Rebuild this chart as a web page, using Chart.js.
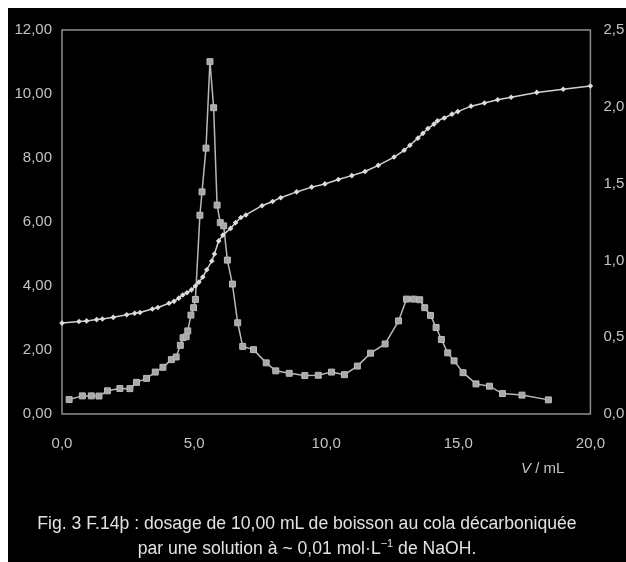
<!DOCTYPE html>
<html lang="fr">
  <head>
    <meta charset="UTF-8" />
    <script src="https://cdn.jsdelivr.net/npm/chart.js"></script>
    <title>Dosage cola / NaOH</title>
    <style>
      body {
        margin: 0;
        background: #ffffff;
        width: 626px;
        height: 562px;
        overflow: hidden;
        position: relative;
        font-family: "Liberation Sans", Arial, sans-serif;
      }
      #sheet {
        position: absolute;
        left: 8px;
        top: 8px;
        width: 618px;
        height: 554px;
        background: #000000;
      }
      #axis-title {
        position: absolute;
        left: 521px;
        top: 459px;
        color: #c4c4c4;
        font-size: 15px;
        white-space: nowrap;
      }
      #caption {
        position: absolute;
        left: 8px;
        top: 511px;
        width: 598px;
        text-align: center;
        color: #e2e2e2;
        font-size: 17.6px;
        line-height: 25px;
      }
      #caption sup {
        font-size: 11px;
        line-height: 0;
      }
    </style>
  </head>
  <body>
    <div id="sheet">
      <canvas id="chart" width="618" height="554"></canvas>
    </div>
    <div id="axis-title"><i>V</i> / mL</div>
    <div id="caption">
      Fig. 3 F.14þ : dosage de 10,00 mL de boisson au cola décarboniquée<br />
      par une solution à ~ 0,01 mol·L<sup>−1</sup> de NaOH.
    </div>
    <script>
      // pH curve (left axis)
      const phVolumes = [0.0, 0.64, 0.93, 1.31, 1.53, 1.94, 2.45, 2.75, 2.95, 3.42, 3.63, 4.05, 4.24, 4.42,
        4.57, 4.73, 4.90, 5.05, 5.18, 5.33, 5.48, 5.67, 5.77, 5.93, 6.09, 6.38, 6.57, 6.77, 6.96, 7.57,
        7.97, 8.28, 8.88, 9.45, 9.95, 10.46, 10.97, 11.47, 11.97, 12.57, 12.95, 13.17, 13.47, 13.66,
        13.85, 14.08, 14.21, 14.47, 14.76, 14.98, 15.48, 15.99, 16.49, 17.0, 17.97, 18.97, 20.0];
      const phValues = [2.84, 2.89, 2.91, 2.95, 2.97, 3.02, 3.10, 3.15, 3.17, 3.28, 3.33, 3.46, 3.52, 3.62,
        3.72, 3.79, 3.88, 4.00, 4.12, 4.28, 4.51, 4.78, 5.00, 5.41, 5.59, 5.80, 5.98, 6.14, 6.22, 6.51,
        6.64, 6.76, 6.94, 7.09, 7.19, 7.33, 7.45, 7.58, 7.77, 8.03, 8.24, 8.40, 8.62, 8.77,
        8.92, 9.06, 9.16, 9.25, 9.37, 9.45, 9.62, 9.72, 9.82, 9.90, 10.05, 10.15, 10.25];

      // dpH/dV curve (right axis)
      const derivVolumes = [0.27, 0.77, 1.11, 1.40, 1.72, 2.19, 2.57, 2.82, 3.20, 3.53, 3.82, 4.14, 4.32,
        4.48, 4.58, 4.70, 4.76, 4.88, 4.98, 5.05, 5.22, 5.30, 5.45, 5.60, 5.74, 5.87, 5.99, 6.12, 6.26,
        6.45, 6.65, 6.84, 7.25, 7.73, 8.09, 8.60, 9.19, 9.70, 10.20, 10.69, 11.18, 11.68, 12.23, 12.74,
        13.04, 13.31, 13.54, 13.73, 13.95, 14.16, 14.36, 14.60, 14.84, 15.18, 15.67, 16.18, 16.67,
        17.41, 18.41];
      const derivValues = [0.094, 0.118, 0.118, 0.117, 0.151, 0.166, 0.165, 0.206, 0.232, 0.273, 0.304,
        0.354, 0.371, 0.447, 0.497, 0.503, 0.541, 0.644, 0.692, 0.746, 1.294, 1.446, 1.731, 2.294,
        1.994, 1.360, 1.246, 1.225, 1.002, 0.846, 0.594, 0.440, 0.419, 0.333, 0.281, 0.265, 0.250,
        0.252, 0.273, 0.256, 0.312, 0.396, 0.456, 0.606, 0.748, 0.748, 0.744, 0.692, 0.642, 0.563,
        0.485, 0.398, 0.346, 0.269, 0.196, 0.181, 0.133, 0.123, 0.092];

      const xTicks = [0, 5, 10, 15, 20];
      const leftTicks = [0, 2, 4, 6, 8, 10, 12];
      const rightTicks = [0, 0.5, 1, 1.5, 2, 2.5];

      const comma = (v, d) => v.toFixed(d).replace('.', ',');
      const tickFont = { family: "'Liberation Sans', Arial, sans-serif", size: 15 };
      const tickColor = '#c4c4c4';

      const framePlugin = {
        id: 'frame',
        beforeDatasetsDraw(chart) {
          const a = chart.chartArea;
          const ctx = chart.ctx;
          ctx.save();
          ctx.strokeStyle = '#8e8e8e';
          ctx.lineWidth = 1.5;
          ctx.strokeRect(a.left, a.top, a.right - a.left, a.bottom - a.top);
          ctx.restore();
        }
      };

      new Chart(document.getElementById('chart'), {
        type: 'scatter',
        data: {
          datasets: [
            {
              data: phVolumes.map((v, i) => ({ x: v, y: phValues[i] })),
              yAxisID: 'yL',
              showLine: true,
              borderColor: '#d2d2d2',
              borderWidth: 1.5,
              pointStyle: 'rectRot',
              pointRadius: 2.8,
              pointBackgroundColor: '#dcdcdc',
              pointBorderWidth: 0,
              clip: false
            },
            {
              data: derivVolumes.map((v, i) => ({ x: v, y: derivValues[i] })),
              yAxisID: 'yR',
              showLine: true,
              borderColor: '#b8b8b8',
              borderWidth: 1.5,
              pointStyle: 'rect',
              pointRadius: 4.2,
              pointBackgroundColor: '#a8a8a8',
              pointBorderColor: '#bdbdbd',
              pointBorderWidth: 1,
              clip: false
            }
          ]
        },
        options: {
          responsive: false,
          animation: false,
          events: [],
          layout: { padding: { top: 22 } },
          plugins: {
            legend: { display: false },
            tooltip: { enabled: false }
          },
          scales: {
            x: {
              type: 'linear',
              min: 0,
              max: 20,
              afterBuildTicks: s => { s.ticks = xTicks.map(v => ({ value: v })); },
              afterFit: s => { s.height = 148; },
              grid: { display: false, drawTicks: false },
              border: { display: false },
              ticks: { color: tickColor, font: tickFont, padding: 21, callback: v => comma(v, 1) }
            },
            yL: {
              position: 'left',
              min: 0,
              max: 12,
              afterBuildTicks: s => { s.ticks = leftTicks.map(v => ({ value: v })); },
              afterFit: s => { s.width = 54; },
              grid: { display: false, drawTicks: false },
              border: { display: false },
              ticks: { color: tickColor, font: tickFont, padding: 10, callback: v => comma(v, 2) }
            },
            yR: {
              position: 'right',
              min: 0,
              max: 2.5,
              afterBuildTicks: s => { s.ticks = rightTicks.map(v => ({ value: v })); },
              afterFit: s => { s.width = 34; },
              grid: { display: false, drawTicks: false },
              border: { display: false },
              ticks: { color: tickColor, font: tickFont, padding: 13, callback: v => comma(v, 1) }
            }
          }
        },
        plugins: [framePlugin]
      });
    </script>
  </body>
</html>
